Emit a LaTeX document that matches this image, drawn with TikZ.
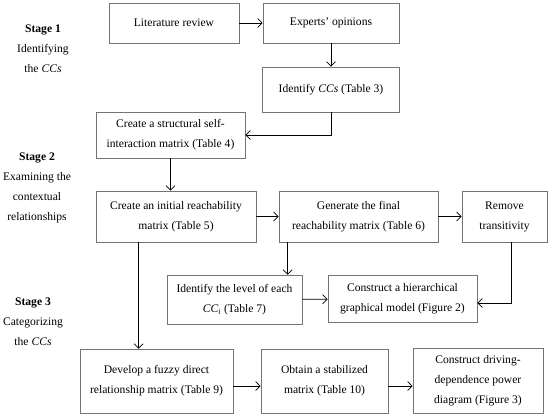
\documentclass[tikz,border=0pt]{standalone}
\usepackage{fontspec}
\setmainfont{Liberation Serif}
\usetikzlibrary{arrows.meta}
\begin{document}
\begin{tikzpicture}[x=1pt,y=-1pt,
  box/.style={draw=black!55, line width=0.6pt, align=center, inner sep=2pt,
    font=\fontsize{11.6}{20}\selectfont},
  stagetxt/.style={align=center, font=\fontsize{11.6}{20}\selectfont},
  conn/.style={line width=0.7pt, -{Straight Barb[length=4.5pt,width=9pt]}}]
\useasboundingbox (0,0) rectangle (550,418);
\node[box, minimum width=130pt, minimum height=40pt] (b1) at (174,23) {Literature review};
\node[box, minimum width=136pt, minimum height=40pt] (b2) at (331,23) {Experts' opinions};
\node[box, minimum width=137pt, minimum height=45pt] (b3) at (331,89.5) {Identify \textit{CCs} (Table 3)};
\node[box, minimum width=149pt, minimum height=46pt] (b4) at (170.5,135) {Create a structural self-\\interaction matrix (Table 4)};
\node[box, minimum width=160pt, minimum height=51pt] (b5) at (176,216.5) {Create an initial reachability\\matrix (Table 5)};
\node[box, minimum width=159pt, minimum height=51pt] (b6) at (358.5,216.5) {Generate the final\\reachability matrix (Table 6)};
\node[box, minimum width=85pt, minimum height=51pt] (b7) at (504.5,216.5) {Remove\\transitivity};
\node[box, minimum width=135pt, minimum height=49pt] (b8) at (234.5,299.5) {Identify the level of each\\\textit{CC\textsubscript{i}} (Table 7)};
\node[box, minimum width=149pt, minimum height=47pt] (b9) at (402.5,299) {Construct a hierarchical\\graphical model (Figure 2)};
\node[box, minimum width=153pt, minimum height=64pt] (b10) at (156.5,381) {Develop a fuzzy direct\\relationship matrix (Table 9)};
\node[box, minimum width=127pt, minimum height=64pt] (b11) at (324.5,381) {Obtain a stabilized\\matrix (Table 10)};
\node[box, minimum width=130pt, minimum height=65pt] (b12) at (478,381) {Construct driving-\\dependence power\\diagram (Figure 3)};
\node[stagetxt] (s1) at (43,49) {\textbf{Stage 1}\\Identifying\\the \textit{CCs}};
\node[stagetxt] (s2) at (37,188) {\textbf{Stage 2}\\Examining the\\contextual\\relationships};
\node[stagetxt] (s3) at (33,322) {\textbf{Stage 3}\\Categorizing\\the \textit{CCs}};
\draw[conn] (b1) -- (b2);
\draw[conn] (b2) -- (b3);
\draw[conn] (b3.south) |- (b4.east);
\draw[conn] (b4.south) -- (b4.south |- b5.north);
\draw[conn] (b5) -- (b6);
\draw[conn] (b6) -- (b7);
\draw[conn] ([xshift=9pt]b6.south west) -- ([xshift=9pt]b6.south west |- b8.north);
\draw[conn] (b8) -- (b9);
\draw[conn] ([xshift=50pt]b7.south west) |- ([yshift=-4pt]b9.east);
\draw[conn] ([xshift=43pt]b5.south west) -- ([xshift=43pt]b5.south west |- b10.north);
\draw[conn] ([yshift=-5pt]b10.east) -- ([yshift=-5pt]b11.west);
\draw[conn] ([yshift=-5pt]b11.east) -- ([yshift=-5pt]b12.west);
\end{tikzpicture}
\end{document}
